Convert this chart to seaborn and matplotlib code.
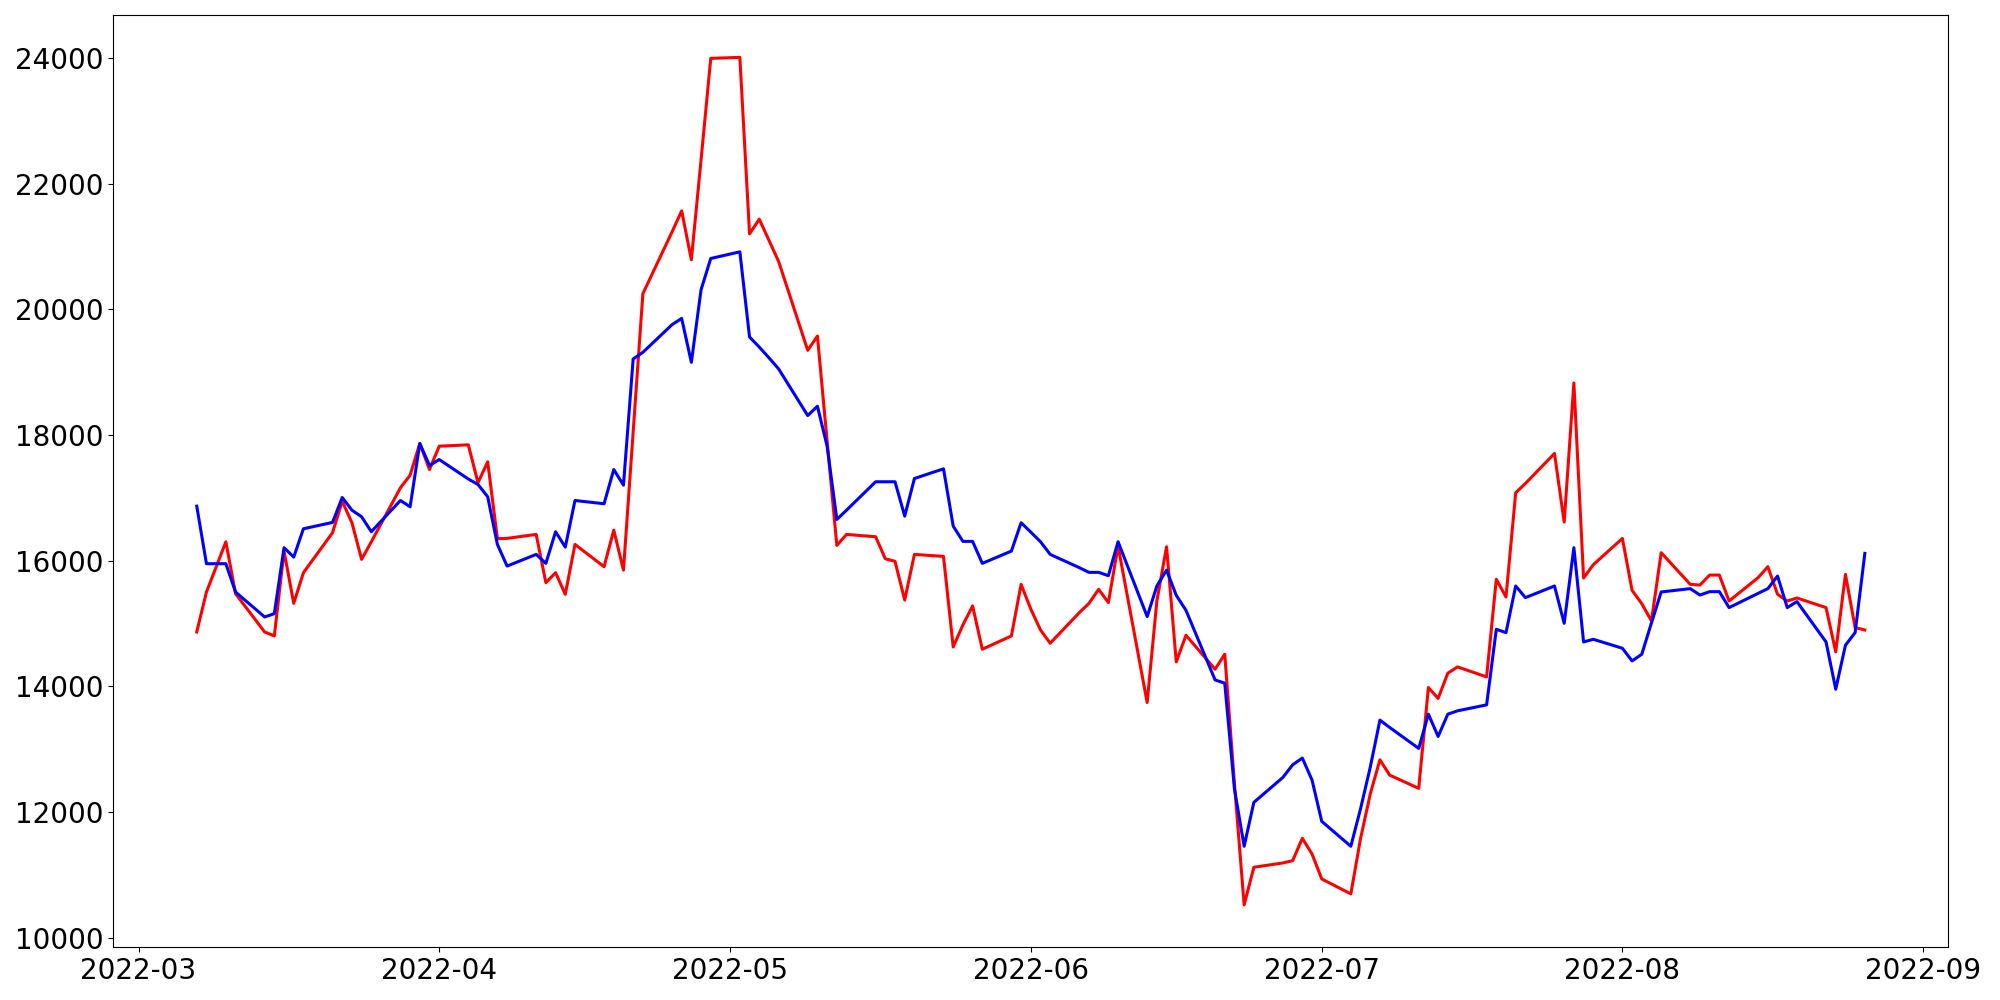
import seaborn as sns
import pandas as pd
import matplotlib.pyplot as plt

start_date = "2022-03-07"
end_date = "2022-08-26"

red_values = [
    14865, 15500, 15900, 16300, 15475,
    14865, 14802, 16153, 15321, 15809,
    16445, 16947, 16604, 16021, 16300,
    17160, 17361, 17865, 17451, 17822,
    17844, 17240, 17574, 16350, 16355,
    16418, 15650, 15809, 15464, 16259,
    15904, 16486, 15850, 18050, 20249,
    21230, 21568, 20789, 22380, 23995,
    24011, 21203, 21436, 21100, 20762,
    19348, 19575, 17900, 16243, 16418,
    16381, 16030, 15990, 15374, 16100,
    16068, 14627, 14977, 15279, 14590,
    14802, 15623, 15230, 14897, 14686,
    15173, 15321, 15544, 15333, 16232,
    13743, 15358, 16222, 14389, 14813,
    14272, 14511, 12450, 10521, 11120,
    11189, 11225, 11581, 11331, 10934,
    10696, 11575, 12285, 12831, 12587,
    12376, 13981, 13807, 14209, 14309,
    14150, 15703, 15422, 17081, 17229,
    17706, 16614, 18829, 15724, 15936,
    16354, 15528, 15316, 15040, 16127,
    15623, 15612, 15771, 15771, 15358,
    15730, 15904, 15464, 15358, 15406,
    15253, 14548, 15782, 14935, 14897,
]

blue_values = [
    16868, 15952, 15952, 15952, 15501,
    15104, 15157, 16207, 16057, 16508,
    16609, 17006, 16804, 16699, 16461,
    16958, 16858, 17865, 17515, 17610,
    17300, 17213, 17017, 16259, 15914,
    16100, 15957, 16461, 16216, 16958,
    16906, 17451, 17202, 19211, 19316,
    19756, 19856, 19157, 20312, 20810,
    20916, 19560, 19400, 19230, 19052,
    18310, 18458, 17822, 16656, 16804,
    17256, 17256, 17256, 16709, 17308,
    17462, 16550, 16307, 16307, 15957,
    16153, 16604, 16455, 16302, 16100,
    15889, 15814, 15814, 15761, 16302,
    15110, 15597, 15850, 15448, 15210,
    14102, 14050, 12365, 11454, 12153,
    12551, 12751, 12858, 12508, 11851,
    11454, 12050, 12710, 13462, 13346,
    13012, 13557, 13202, 13557, 13610,
    13705, 14908, 14855, 15597, 15412,
    15597, 15003, 16207, 14706, 14749,
    14606, 14404, 14511, 15010, 15502,
    15555, 15453, 15507, 15507, 15253,
    15480, 15555, 15755, 15253, 15348,
    14706, 13954, 14654, 14855, 16116,
]

dates = pd.bdate_range(start_date, end_date)

df = pd.DataFrame({"date": dates, "red": red_values, "blue": blue_values})

fig, ax = plt.subplots(figsize=(20, 10), dpi=100)
sns.lineplot(data=df, x="date", y="red", color="red", linewidth=2.2, ax=ax)
sns.lineplot(data=df, x="date", y="blue", color="blue", linewidth=2.2, ax=ax)
ax.set_xlabel("")
ax.set_ylabel("")
ax.tick_params(labelsize=20)
plt.tight_layout()
plt.savefig("out.png")
